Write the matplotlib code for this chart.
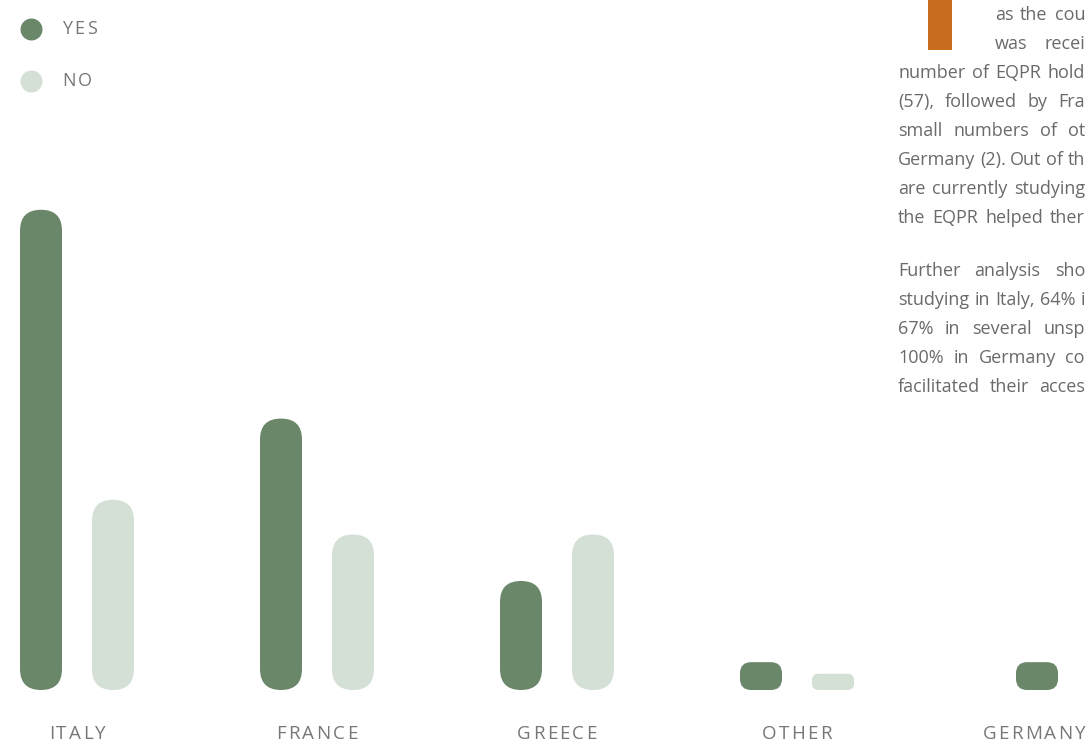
"""Rounded bar chart: did the EQPR help access studies (yes / no) by country."""

import matplotlib

matplotlib.use("Agg")
import matplotlib.pyplot as plt
from matplotlib.patches import FancyBboxPatch, Rectangle

# --- data -------------------------------------------------------------
categories = ["ITALY", "FRANCE", "GREECE", "OTHER", "GERMANY"]
yes_counts = [41, 23, 9, 2, 2]
no_counts = [16, 13, 13, 1, 0]

legend_labels = ["YES", "NO"]

# body text column, as far as it is visible on the cropped page
text_lines_top = ["as the cou", "was recei"]
text_lines_mid = [
    "number of EQPR hold",
    "(57), followed by Fra",
    "small numbers of ot",
    "Germany (2). Out of th",
    "are currently studying",
    "the EQPR helped ther",
]
text_lines_bottom = [
    "Further analysis sho",
    "studying in Italy, 64% i",
    "67% in several unsp",
    "100% in Germany co",
    "facilitated their acces",
]

# --- style ------------------------------------------------------------
YES_COLOR = "#6a8769"
NO_COLOR = "#d4e0d5"
TEXT_GREY = "#777777"
BODY_GREY = "#6a6a6a"
ORANGE = "#c76b1f"
FONT = "Open Sans"

W, H, DPI = 1086, 743, 100
BASE_PX = 53          # baseline height above bottom edge
PX_PER_UNIT = 11.6    # vertical scale
GROUP_PX = 240        # distance between category centres
FIRST_PX = 77         # centre of first category
BAR_W_PX = 42
OFFSET_PX = 36
CAP = 0.4             # extra length added by the rounded ends
RIGHT_EDGE = 1085


def fx(px):
    return px / W


def fy(px_from_top):
    return 1 - px_from_top / H


fig = plt.figure(figsize=(W / DPI, H / DPI), dpi=DPI)
fig.patch.set_facecolor("white")
ax = fig.add_axes([0, 0, 1, 1])
ax.set_xlim(-FIRST_PX / GROUP_PX, (W - FIRST_PX) / GROUP_PX)
ax.set_ylim(-BASE_PX / PX_PER_UNIT, (H - BASE_PX) / PX_PER_UNIT)
ax.axis("off")
renderer = fig.canvas.get_renderer()

x_per_px = 1 / GROUP_PX
y_per_px = 1 / PX_PER_UNIT
aspect = y_per_px / x_per_px


def rounded_bar(xc, value, color):
    h = value + CAP
    h_px = h / y_per_px
    r_px = min(BAR_W_PX / 2, 0.4 * h_px)
    w = BAR_W_PX * x_per_px
    patch = FancyBboxPatch(
        (xc - w / 2, 0),
        w,
        h,
        boxstyle=f"round,pad=0,rounding_size={r_px * x_per_px}",
        mutation_aspect=aspect,
        facecolor=color,
        edgecolor="none",
    )
    ax.add_patch(patch)


def tracked(x_px, y_px, s, tracking, align="center", **kw):
    """Letter-spaced text; x_px is centre or left edge depending on align."""
    chars = [fig.text(0, fy(y_px), c, ha="left", va="center", **kw) for c in s]
    widths = [t.get_window_extent(renderer).width for t in chars]
    total = sum(widths) + tracking * (len(s) - 1)
    x = x_px - total / 2 if align == "center" else x_px
    x = min(x, RIGHT_EDGE - total)
    for t, wd in zip(chars, widths):
        t.set_x(fx(x))
        x += wd + tracking


def justified(x0_px, x1_px, y_px, line, **kw):
    words = line.split(" ")
    texts = [fig.text(0, fy(y_px), w, ha="left", va="center", **kw) for w in words]
    widths = [t.get_window_extent(renderer).width for t in texts]
    gap = max(2.5, (x1_px - x0_px - sum(widths)) / max(len(words) - 1, 1))
    x = x0_px
    for t, wd in zip(texts, widths):
        t.set_x(fx(x))
        x += wd + gap


off = OFFSET_PX * x_per_px
for i, (cat, y_val, n_val) in enumerate(zip(categories, yes_counts, no_counts)):
    if n_val > 0:
        rounded_bar(i - off, y_val, YES_COLOR)
        rounded_bar(i + off, n_val, NO_COLOR)
    else:
        rounded_bar(i, y_val, YES_COLOR)
    cx = ax.transData.transform((i, 0))[0]
    tracked(cx, 734, cat, 2.2, fontsize=13.5, color=TEXT_GREY, family=FONT)

# legend
for k, (lab, col) in enumerate(zip(legend_labels, [YES_COLOR, NO_COLOR])):
    y = 29 + 52 * k
    ax.scatter([fx(31)], [fy(y)], s=250, color=col, transform=fig.transFigure,
               clip_on=False, linewidths=0)
    tracked(62, y, lab, 2.5, align="left", fontsize=13, color=TEXT_GREY,
            family=FONT)

# right hand column of body text (cut by the page edge)
fig.add_artist(Rectangle((fx(928), fy(50)), fx(24), 50 / H,
                         transform=fig.transFigure, facecolor=ORANGE,
                         edgecolor="none"))
body = dict(fontsize=13, color=BODY_GREY, family=FONT)
for k, line in enumerate(text_lines_top):
    justified(995, RIGHT_EDGE, 15 + 29 * k, line, **body)
for k, line in enumerate(text_lines_mid):
    justified(898, RIGHT_EDGE, 73 + 29 * k, line, **body)
for k, line in enumerate(text_lines_bottom):
    justified(898, RIGHT_EDGE, 271 + 29 * k, line, **body)

fig.savefig("out.png", dpi=DPI)
